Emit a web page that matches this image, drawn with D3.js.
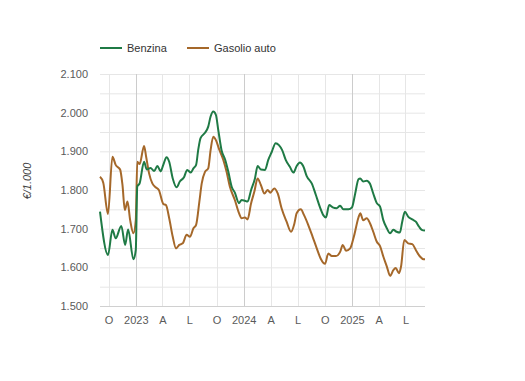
<!DOCTYPE html>
<html>
<head>
<meta charset="utf-8">
<script src="https://cdn.jsdelivr.net/npm/d3@7"></script>
<style>
  html, body { margin: 0; padding: 0; background: #fff; }
  svg { display: block; font-family: "Liberation Sans", Arial, sans-serif; }
</style>
</head>
<body>
<svg id="chart" width="525" height="381"></svg>
<script>
// ---- data ----
const seriesNames = ["Benzina", "Gasolio auto"];
const seriesColors = ["#1f7a45", "#a5682a"];

const benzinaDates = ["2022-09-02","2022-09-29","2022-10-14","2022-10-25","2022-11-13","2022-11-26","2022-12-06","2022-12-24","2023-01-01","2023-01-06","2023-01-14","2023-01-29","2023-02-07","2023-02-20","2023-03-04","2023-03-15","2023-03-26","2023-04-04","2023-04-15","2023-04-24","2023-05-06","2023-05-19","2023-05-30","2023-06-13","2023-06-24","2023-07-06","2023-07-15","2023-07-24","2023-07-31","2023-08-08","2023-08-23","2023-09-03","2023-09-11","2023-09-20","2023-09-29","2023-10-07","2023-10-18","2023-10-30","2023-11-10","2023-11-21","2023-12-02","2023-12-16","2023-12-25","2024-01-05","2024-01-14","2024-01-26","2024-02-08","2024-02-17","2024-02-28","2024-03-13","2024-03-24","2024-04-05","2024-04-18","2024-04-29","2024-05-10","2024-05-22","2024-06-05","2024-06-17","2024-06-28","2024-07-09","2024-07-20","2024-08-01","2024-08-18","2024-09-01","2024-09-15","2024-09-26","2024-10-05","2024-10-16","2024-10-28","2024-11-10","2024-11-22","2024-12-03","2024-12-20","2025-01-01","2025-01-12","2025-01-23","2025-01-29","2025-02-08","2025-02-20","2025-03-03","2025-03-14","2025-03-26","2025-04-06","2025-04-17","2025-04-29","2025-05-10","2025-05-21","2025-06-01","2025-06-12","2025-06-20","2025-06-29","2025-07-10","2025-07-24","2025-08-05","2025-08-16","2025-08-25","2025-09-05"];
const benzinaValues = [1.744,1.632,1.697,1.675,1.707,1.658,1.698,1.621,1.645,1.809,1.817,1.873,1.853,1.857,1.849,1.862,1.848,1.865,1.885,1.873,1.830,1.807,1.822,1.833,1.852,1.845,1.856,1.865,1.903,1.934,1.948,1.964,1.990,2.003,1.994,1.955,1.903,1.879,1.847,1.809,1.793,1.766,1.774,1.772,1.770,1.800,1.830,1.862,1.853,1.852,1.878,1.899,1.921,1.916,1.903,1.878,1.860,1.845,1.862,1.871,1.862,1.836,1.817,1.787,1.755,1.735,1.729,1.761,1.755,1.753,1.759,1.750,1.750,1.755,1.791,1.828,1.830,1.822,1.824,1.816,1.791,1.766,1.757,1.722,1.701,1.688,1.697,1.692,1.690,1.718,1.744,1.731,1.724,1.718,1.705,1.697,1.695];

const gasolioDates = ["2022-09-02","2022-09-13","2022-09-29","2022-10-14","2022-10-25","2022-11-09","2022-11-17","2022-11-25","2022-12-04","2022-12-13","2022-12-24","2023-01-01","2023-01-06","2023-01-14","2023-01-29","2023-02-05","2023-02-15","2023-02-26","2023-03-09","2023-03-20","2023-04-04","2023-04-13","2023-04-24","2023-05-06","2023-05-17","2023-05-28","2023-06-09","2023-06-22","2023-07-03","2023-07-15","2023-07-24","2023-08-04","2023-08-12","2023-08-23","2023-09-03","2023-09-11","2023-09-20","2023-09-29","2023-10-10","2023-10-24","2023-11-04","2023-11-15","2023-12-02","2023-12-16","2023-12-25","2024-01-05","2024-01-14","2024-01-26","2024-02-06","2024-02-17","2024-02-28","2024-03-11","2024-03-22","2024-03-31","2024-04-13","2024-04-25","2024-05-08","2024-05-25","2024-06-09","2024-06-20","2024-06-28","2024-07-12","2024-07-23","2024-08-06","2024-08-21","2024-09-04","2024-09-17","2024-10-02","2024-10-13","2024-10-25","2024-11-08","2024-11-22","2024-12-01","2024-12-12","2024-12-26","2025-01-08","2025-01-23","2025-01-29","2025-02-08","2025-02-20","2025-03-03","2025-03-14","2025-03-26","2025-04-06","2025-04-17","2025-04-29","2025-05-10","2025-05-21","2025-05-29","2025-06-09","2025-06-16","2025-06-27","2025-07-10","2025-07-24","2025-08-05","2025-08-19","2025-08-31","2025-09-05"];
const gasolioValues = [1.834,1.819,1.738,1.886,1.865,1.853,1.813,1.748,1.770,1.722,1.688,1.722,1.873,1.867,1.914,1.886,1.843,1.817,1.807,1.800,1.764,1.761,1.727,1.679,1.649,1.658,1.662,1.684,1.679,1.701,1.710,1.770,1.817,1.847,1.856,1.903,1.938,1.929,1.905,1.878,1.847,1.809,1.774,1.740,1.727,1.729,1.724,1.766,1.796,1.830,1.813,1.791,1.800,1.793,1.804,1.791,1.753,1.718,1.692,1.712,1.740,1.750,1.735,1.710,1.679,1.649,1.623,1.609,1.636,1.629,1.629,1.640,1.658,1.643,1.649,1.681,1.729,1.740,1.722,1.727,1.714,1.692,1.666,1.655,1.628,1.602,1.578,1.593,1.598,1.585,1.602,1.671,1.662,1.660,1.645,1.628,1.621,1.621];

const xTickDates = ["2022-10-01","2023-01-01","2023-04-01","2023-07-01","2023-10-01","2024-01-01","2024-04-01","2024-07-01","2024-10-01","2025-01-01","2025-04-01","2025-07-01"];
const xTickLabels = ["O","2023","A","L","O","2024","A","L","O","2025","A","L"];
const yTicks = [1.5, 1.6, 1.7, 1.8, 1.9, 2.0, 2.1];
const yMinorTicks = [1.55, 1.65, 1.75, 1.85, 1.95, 2.05];
const yTitle = "€/1.000";
const xDomain = ["2022-09-02", "2025-09-05"];

// ---- chart ----
const parse = d3.timeParse("%Y-%m-%d");
const svg = d3.select("#chart");
const plot = { left: 100, right: 425, top: 74, bottom: 306 };

const x = d3.scaleTime().domain(xDomain.map(parse)).range([plot.left, plot.right]);
const y = d3.scaleLinear().domain([1.5, 2.1]).range([plot.bottom, plot.top]);

const loc = d3.formatLocale({ decimal: ",", thousands: ".", grouping: [3], currency: ["€", ""] });
const fmt = v => loc.format(",.0f")(Math.round(v * 1000));

// horizontal grid
svg.append("g").selectAll("line")
  .data(yTicks.concat(yMinorTicks))
  .join("line")
  .attr("x1", plot.left).attr("x2", plot.right)
  .attr("y1", d => y(d) + 0.5).attr("y2", d => y(d) + 0.5)
  .attr("stroke", "#e6e6e6").attr("stroke-width", 1);

// vertical grid
const tickDates = xTickDates.map(parse);
svg.append("g").selectAll("line")
  .data(tickDates)
  .join("line")
  .attr("x1", d => Math.round(x(d)) + 0.5).attr("x2", d => Math.round(x(d)) + 0.5)
  .attr("y1", plot.top).attr("y2", plot.bottom)
  .attr("stroke", d => d.getMonth() === 0 ? "#cccccc" : "#e6e6e6")
  .attr("stroke-width", 1);

// baseline
svg.append("line")
  .attr("x1", plot.left).attr("x2", plot.right)
  .attr("y1", y(1.5) + 0.5).attr("y2", y(1.5) + 0.5)
  .attr("stroke", "#d0d0d0");

// y axis
const yAxis = d3.axisLeft(y).tickValues(yTicks).tickFormat(fmt).tickSize(0).tickPadding(12);
const gy = svg.append("g").attr("transform", `translate(${plot.left},0)`).call(yAxis);
gy.select(".domain").remove();
gy.selectAll("text").attr("fill", "#5a5a5a").style("font-size", "11px");

// x axis
const xAxis = d3.axisBottom(x).tickValues(tickDates)
  .tickFormat((d, i) => xTickLabels[i]).tickSize(0).tickPadding(10);
const gx = svg.append("g").attr("transform", `translate(0,${plot.bottom})`).call(xAxis);
gx.select(".domain").remove();
gx.selectAll("text").attr("fill", "#5a5a5a").style("font-size", "11px");

// y title
svg.append("text")
  .attr("transform", `translate(31,${(plot.top + plot.bottom) / 2 - 9}) rotate(-90)`)
  .attr("text-anchor", "middle")
  .style("font-size", "11px").style("font-style", "italic")
  .attr("fill", "#444")
  .text(yTitle);

// lines
const series = [
  { name: seriesNames[0], color: seriesColors[0], pts: benzinaDates.map((d, i) => [parse(d), benzinaValues[i]]) },
  { name: seriesNames[1], color: seriesColors[1], pts: gasolioDates.map((d, i) => [parse(d), gasolioValues[i]]) }
];
const line = d3.line().x(d => x(d[0])).y(d => y(d[1])).curve(d3.curveMonotoneX);
svg.append("g").selectAll("path")
  .data(series.slice().reverse())
  .join("path")
  .attr("d", d => line(d.pts))
  .attr("fill", "none")
  .attr("stroke", d => d.color)
  .attr("stroke-width", 2)
  .attr("stroke-linejoin", "round");

// legend
const legendX = [100, 187];
const lg = svg.append("g");
series.forEach((s, i) => {
  const g = lg.append("g").attr("transform", `translate(${legendX[i]},48)`);
  g.append("line").attr("x1", 0).attr("x2", 22).attr("y1", 0).attr("y2", 0)
    .attr("stroke", s.color).attr("stroke-width", 2);
  g.append("text").attr("x", 27).attr("y", 4).style("font-size", "11px")
    .attr("fill", "#333").text(s.name);
});
</script>
</body>
</html>
